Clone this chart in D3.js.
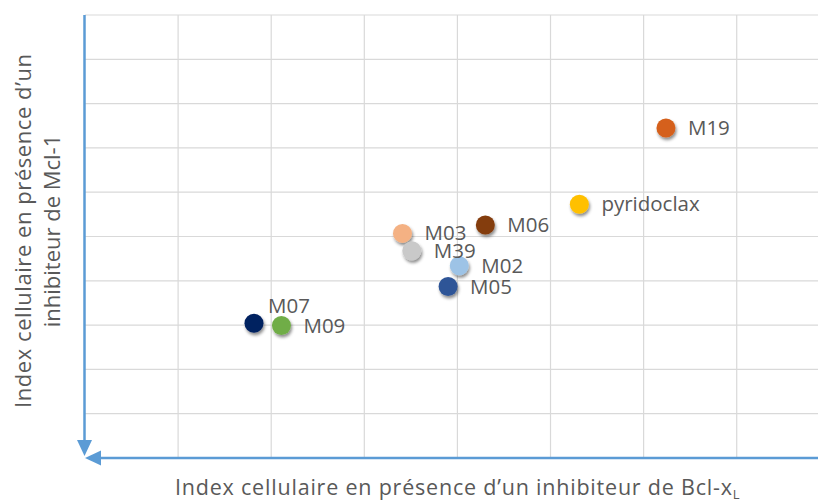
<!DOCTYPE html>
<html>
<head>
<meta charset="utf-8">
<script src="https://cdn.jsdelivr.net/npm/d3@7/dist/d3.min.js"></script>
<style>
  html, body { margin: 0; padding: 0; background: #fff; }
  svg { display: block; }
  text { font-family: "Open Sans", Lato, sans-serif; fill: #595959; }
</style>
</head>
<body>
<svg id="chart" width="818" height="502"></svg>
<script>
// Compounds and their cell index under each inhibitor
const compounds = ["M07", "M09", "M05", "M02", "M39", "M03", "M06", "pyridoclax", "M19"];
const bclxlIndex = [1.815, 2.11, 3.90, 4.02, 3.51, 3.41, 4.30, 5.31, 6.24];
const mcl1Index  = [3.04, 2.99, 3.87, 4.34, 4.68, 5.07, 5.26, 5.73, 7.45];
const pointColors = ["#002060", "#70AD47", "#2F5597", "#9DC3E6", "#C9C9C9", "#F4B183", "#843C0C", "#FFC000", "#D5601A"];
const labelSide = ["above", "right", "right", "right", "right", "right", "right", "right", "right"];
const xTicks = [1, 2, 3, 4, 5, 6, 7];
const yTicks = [1, 2, 3, 4, 5, 6, 7, 8, 9, 10];
const xTitle = "Index cellulaire en présence d\u2019un inhibiteur de Bcl-x";
const xTitleSub = "L";
const yTitleLines = ["Index cellulaire en présence d\u2019un", "inhibiteur de Mcl-1"];

const svg = d3.select("#chart");
const W = 818;
const plotLeft = 85, plotBottom = 458, plotTop = 15;

const x = d3.scaleLinear().domain([0, 7.873]).range([plotLeft, W]);
const y = d3.scaleLinear().domain([0, 10]).range([plotBottom, plotTop]);

const defs = svg.append("defs");
const shadow = defs.append("filter").attr("id", "shadow")
  .attr("x", "-50%").attr("y", "-50%").attr("width", "200%").attr("height", "200%");
shadow.append("feDropShadow")
  .attr("dx", 1.2).attr("dy", 2.5).attr("stdDeviation", 1.6)
  .attr("flood-color", "#000").attr("flood-opacity", 0.45);

// Gridlines
const grid = svg.append("g").attr("stroke", "#D9D9D9").attr("stroke-width", 1.2);
grid.selectAll(".vx").data(xTicks).join("line")
  .attr("x1", d => x(d)).attr("x2", d => x(d))
  .attr("y1", y(10)).attr("y2", plotBottom);
grid.selectAll(".hy").data(yTicks).join("line")
  .attr("x1", plotLeft).attr("x2", W)
  .attr("y1", d => y(d)).attr("y2", d => y(d));

// Axes with arrowheads pointing to the origin
const axisColor = "#5B9BD5";
const ax = svg.append("g");
ax.append("line").attr("x1", plotLeft - 0.5).attr("x2", plotLeft - 0.5)
  .attr("y1", y(10)).attr("y2", plotBottom - 16)
  .attr("stroke", axisColor).attr("stroke-width", 2.5);
ax.append("path")
  .attr("d", `M${plotLeft - 0.5},${plotBottom - 2} L${plotLeft - 8},${plotBottom - 18} L${plotLeft + 7},${plotBottom - 18} Z`)
  .attr("fill", axisColor);
ax.append("line").attr("x1", plotLeft + 14).attr("x2", W)
  .attr("y1", plotBottom).attr("y2", plotBottom)
  .attr("stroke", axisColor).attr("stroke-width", 2.5);
ax.append("path")
  .attr("d", `M${plotLeft},${plotBottom} L${plotLeft + 16},${plotBottom - 7.5} L${plotLeft + 16},${plotBottom + 7.5} Z`)
  .attr("fill", axisColor);

// Points
const pts = compounds.map((c, i) => ({ name: c, bx: bclxlIndex[i], my: mcl1Index[i], color: pointColors[i], side: labelSide[i] }));
const drawOrder = ["M07", "M09", "M05", "M02", "M03", "M39", "M06", "pyridoclax", "M19"];
const ordered = drawOrder.map(n => pts.find(p => p.name === n));

svg.append("g").selectAll("circle").data(ordered).join("circle")
  .attr("cx", d => x(d.bx)).attr("cy", d => y(d.my))
  .attr("r", 9.5)
  .attr("fill", d => d.color)
  .attr("filter", "url(#shadow)");

// Data labels
svg.append("g").selectAll("text").data(ordered).join("text")
  .attr("x", d => x(d.bx) + (d.side === "above" ? 14 : 22))
  .attr("y", d => y(d.my) + (d.side === "above" ? -10 : 7))
  .attr("font-size", 20.5)
  .text(d => d.name);

// Axis titles
const xt = svg.append("text")
  .attr("x", 175).attr("y", 495)
  .attr("font-size", 21.5);
xt.append("tspan").attr("textLength", 557).attr("lengthAdjust", "spacing").text(xTitle);
xt.append("tspan").attr("font-size", 13).attr("dy", 4).text(xTitleSub);

const yt = svg.append("g").attr("transform", "translate(0,231) rotate(-90)");
yt.append("text").attr("x", 0).attr("y", 31)
  .attr("text-anchor", "middle")
  .attr("font-size", 22)
  .attr("textLength", 354).attr("lengthAdjust", "spacing")
  .text(yTitleLines[0]);
yt.append("text").attr("x", 0).attr("y", 60)
  .attr("text-anchor", "middle")
  .attr("font-size", 22)
  .text(yTitleLines[1]);
</script>
</body>
</html>
